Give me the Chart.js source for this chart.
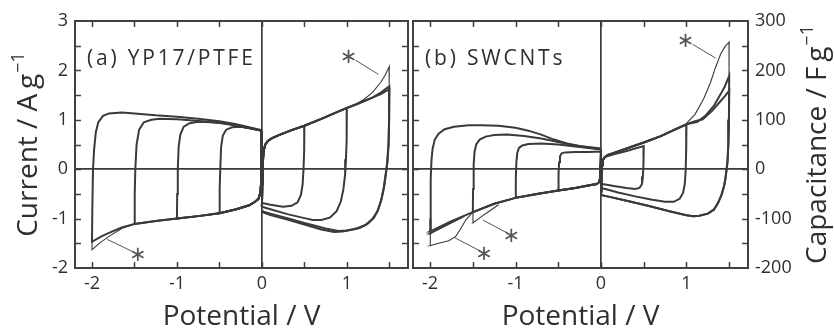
<!DOCTYPE html>
<html>
<head>
<meta charset="utf-8">
<script src="https://cdn.jsdelivr.net/npm/chart.js@4.4.0/dist/chart.umd.min.js"></script>
<style>
  html, body { margin: 0; padding: 0; background: #fff; }
  #wrap { position: relative; width: 834px; height: 331px; overflow: hidden; }
  canvas { position: absolute; top: 0; }
  #cva { left: 0; }
  #cvb { left: 410px; }
</style>
</head>
<body>
<div id="wrap">
  <canvas id="cva" width="412" height="331"></canvas>
  <canvas id="cvb" width="424" height="331"></canvas>
</div>
<script>
// ---- axis ticks ----
const potentialTicks = [-2, -1, 0, 1];
const currentTicks = [-2, -1, 0, 1, 2, 3];
const capacitanceTicks = [-200, -100, 0, 100, 200, 300];
const potentialMarks = [-2, -1.5, -1, -0.5, 0, 0.5, 1, 1.5];
const currentMarks = [-1.5, -1, -0.5, 0, 0.5, 1, 1.5, 2, 2.5];

// ---- (a) YP17/PTFE : [potential V, current A/g] ----
// cathodic sweep from 0 V, shared by all negative windows
const aNegSweep = [[0, 0.78], [-0.004, 0.35], [-0.01, -0.25], [-0.02, -0.48], [-0.04, -0.6], [-0.08, -0.66], [-0.15, -0.73], [-0.3, -0.81], [-0.5, -0.89], [-0.75, -0.95], [-1, -1.0], [-1.25, -1.05], [-1.5, -1.11], [-1.65, -1.18], [-1.8, -1.29], [-1.9, -1.37], [-2, -1.47]];
const aNegBack05 = [[-0.497, -0.4], [-0.49, 0.0], [-0.48, 0.45], [-0.46, 0.68], [-0.42, 0.8], [-0.35, 0.85], [-0.25, 0.86], [-0.1, 0.82], [0, 0.78]];
const aNegBack10 = [[-0.997, -0.5], [-0.99, 0.0], [-0.98, 0.45], [-0.96, 0.7], [-0.92, 0.86], [-0.85, 0.93], [-0.75, 0.96], [-0.6, 0.95], [-0.4, 0.92], [-0.2, 0.85], [0, 0.78]];
const aNegBack15 = [[-1.497, -0.5], [-1.49, 0.0], [-1.475, 0.5], [-1.445, 0.8], [-1.39, 0.95], [-1.3, 1.0], [-1.2, 1.02], [-1.0, 1.01], [-0.7, 0.97], [-0.5, 0.94], [-0.2, 0.85], [0, 0.78]];
const aNegBack20 = [[-1.996, -0.8], [-1.988, 0.0], [-1.975, 0.4], [-1.955, 0.75], [-1.925, 0.95], [-1.87, 1.08], [-1.8, 1.13], [-1.65, 1.15], [-1.5, 1.13], [-1.25, 1.09], [-1.0, 1.06], [-0.75, 1.02], [-0.5, 0.97], [-0.3, 0.91], [-0.15, 0.85], [0, 0.79]];
const aNegFirst = [[-1.5, -1.11], [-1.65, -1.2], [-1.8, -1.36], [-1.9, -1.48], [-2, -1.63], [-1.997, -1.3]];
// anodic sweep from 0 V, shared by all positive windows
const aPosSweep = [[0, -0.76], [0.006, -0.3], [0.012, 0.15], [0.022, 0.38], [0.04, 0.5], [0.07, 0.57], [0.12, 0.63], [0.2, 0.69], [0.35, 0.79], [0.5, 0.88], [0.7, 1.02], [0.85, 1.13], [1.0, 1.24], [1.15, 1.34], [1.3, 1.45], [1.4, 1.55], [1.5, 1.68]];
const aPosBack05 = [[0.498, 0.4], [0.49, 0.0], [0.48, -0.3], [0.46, -0.52], [0.42, -0.67], [0.35, -0.74], [0.25, -0.76], [0.1, -0.72], [0.02, -0.69], [0, -0.68]];
const aPosBack10 = [[0.998, 0.6], [0.99, 0.2], [0.98, -0.1], [0.96, -0.4], [0.93, -0.65], [0.88, -0.85], [0.8, -0.98], [0.7, -1.03], [0.6, -1.03], [0.5, -0.99], [0.3, -0.91], [0.1, -0.81], [0.02, -0.77], [0, -0.76]];
const aPosBack15 = [[1.498, 1.0], [1.492, 0.5], [1.478, 0.15], [1.46, -0.1], [1.44, -0.35], [1.41, -0.6], [1.37, -0.82], [1.32, -0.98], [1.25, -1.1], [1.15, -1.19], [1.0, -1.24], [0.9, -1.25], [0.75, -1.2], [0.5, -1.09], [0.3, -0.99], [0.1, -0.9], [0.02, -0.86], [0, -0.84]];
const aPosHigh2 = [[1.4, 1.52], [1.5, 1.62]];
const aPosBack15b = [[1.497, 1.0], [1.49, 0.5], [1.474, 0.12], [1.455, -0.12], [1.435, -0.37], [1.405, -0.62], [1.36, -0.85], [1.3, -1.01], [1.22, -1.13], [1.1, -1.21], [0.95, -1.26], [0.85, -1.27], [0.7, -1.22], [0.5, -1.12], [0.3, -1.02], [0.1, -0.93], [0.02, -0.88], [0, -0.86]];
const aPosFirst = [[1.1, 1.31], [1.2, 1.41], [1.3, 1.55], [1.4, 1.76], [1.45, 1.9], [1.5, 2.08], [1.498, 1.7]];

// ---- (b) SWCNTs : [potential V, current A/g] ----
const bNegSweep = [[0, 0.4], [-0.004, 0.1], [-0.01, -0.17], [-0.02, -0.26], [-0.05, -0.3], [-0.15, -0.33], [-0.3, -0.38], [-0.5, -0.43], [-0.75, -0.5], [-1, -0.58], [-1.25, -0.7], [-1.5, -0.87], [-1.75, -1.05], [-2, -1.26]];
const bNegBack05 = [[-0.497, -0.1], [-0.49, 0.14], [-0.48, 0.26], [-0.46, 0.32], [-0.42, 0.34], [-0.3, 0.35], [-0.15, 0.35], [0, 0.36]];
const bNegBack10 = [[-0.997, -0.2], [-0.99, 0.15], [-0.98, 0.33], [-0.96, 0.43], [-0.92, 0.48], [-0.85, 0.51], [-0.7, 0.52], [-0.5, 0.5], [-0.3, 0.46], [-0.1, 0.42], [0, 0.4]];
const bNegBack15 = [[-1.497, -0.4], [-1.49, 0.1], [-1.48, 0.35], [-1.46, 0.5], [-1.42, 0.6], [-1.35, 0.66], [-1.25, 0.69], [-1.1, 0.7], [-0.9, 0.67], [-0.7, 0.62], [-0.5, 0.55], [-0.3, 0.48], [-0.15, 0.44], [0, 0.41]];
const bNegBack20 = [[-1.996, -0.8], [-1.99, -0.2], [-1.983, 0.2], [-1.97, 0.42], [-1.945, 0.6], [-1.9, 0.72], [-1.83, 0.81], [-1.72, 0.86], [-1.55, 0.89], [-1.4, 0.89], [-1.2, 0.88], [-1.0, 0.84], [-0.85, 0.78], [-0.7, 0.7], [-0.55, 0.6], [-0.4, 0.52], [-0.25, 0.47], [-0.1, 0.44], [0, 0.42]];
const bNegTail2 = [[-1.6, -0.95], [-1.8, -1.12], [-2, -1.3], [-1.997, -1.0]];
const bNegFirst20 = [[-1.5, -0.87], [-1.58, -1.02], [-1.64, -1.2], [-1.7, -1.36], [-1.78, -1.45], [-1.9, -1.5], [-2, -1.55], [-1.998, -1.2]];
const bNegFirst15 = [[-1.2, -0.72], [-1.3, -0.84], [-1.4, -0.96], [-1.5, -1.09], [-1.498, -0.85]];
const bPosSweep05 = [[0, -0.3], [0.006, -0.05], [0.012, 0.12], [0.025, 0.2], [0.05, 0.25], [0.15, 0.3], [0.3, 0.37], [0.5, 0.47]];
const bPosBack05 = [[0.497, 0.1], [0.49, -0.15], [0.48, -0.3], [0.45, -0.38], [0.4, -0.4], [0.3, -0.38], [0.15, -0.34], [0.05, -0.31], [0, -0.3]];
const bPosSweep = [[0, -0.45], [0.006, -0.15], [0.012, 0.08], [0.022, 0.18], [0.04, 0.24], [0.08, 0.29], [0.15, 0.33], [0.3, 0.42], [0.5, 0.54], [0.7, 0.67], [0.85, 0.79], [1.0, 0.91]];
const bPosBack10 = [[0.997, 0.4], [0.99, -0.05], [0.98, -0.3], [0.96, -0.48], [0.92, -0.6], [0.85, -0.66], [0.75, -0.66], [0.6, -0.62], [0.4, -0.55], [0.2, -0.47], [0.05, -0.4], [0, -0.38]];
const bPosHighA = [[1.1, 0.97], [1.19, 1.01], [1.3, 1.18], [1.4, 1.38], [1.45, 1.48], [1.5, 1.59]];
const bPosHighB = [[1.13, 0.96], [1.22, 1.08], [1.32, 1.28], [1.4, 1.52], [1.45, 1.68], [1.5, 1.89]];
const bPosFirst = [[1.0, 0.93], [1.1, 1.11], [1.2, 1.42], [1.28, 1.75], [1.34, 2.06], [1.4, 2.33], [1.45, 2.48], [1.5, 2.57], [1.498, 1.9]];
const bPosBack15 = [[1.497, 1.0], [1.49, 0.5], [1.48, 0.15], [1.47, 0.0], [1.455, -0.2], [1.44, -0.34], [1.41, -0.52], [1.37, -0.68], [1.32, -0.82], [1.25, -0.9], [1.15, -0.94], [1.08, -0.95], [1.0, -0.93], [0.8, -0.85], [0.55, -0.74], [0.3, -0.64], [0.1, -0.56], [0.02, -0.53], [0, -0.5]];

// ---- first-cycle markers: leader line ends and asterisk positions ----
const aMarkLines = [[[-1.82, -1.42], [-1.52, -1.67]], [[1.10, 2.21], [1.37, 1.92]]];
const aMarkStars = [[-1.46, -1.74], [1.02, 2.26]];
const bMarkLines = [[[1.07, 2.53], [1.34, 2.25]], [[-1.38, -1.03], [-1.11, -1.28]], [[-1.72, -1.38], [-1.42, -1.65]]];
const bMarkStars = [[0.99, 2.59], [-1.05, -1.36], [-1.37, -1.72]];

// ---- styling ----
const lineColor = '#3a3a3a';
const frameColor = '#414141';
const textColor = '#2f2f2f';
const family = "'Open Sans', 'DejaVu Sans', sans-serif";

const upTo = (arr, v) => arr.filter(p => (v < 0 ? p[0] >= v : p[0] <= v));
const pts = (...parts) => [].concat(...parts).map(([x, y]) => ({ x, y }));
const curve = (data, thin) => ({
  data, showLine: true, fill: false, borderColor: lineColor,
  borderWidth: thin ? 1.1 : 2, pointRadius: 0, tension: 0
});
const leaders = lines => lines.map(l => ({
  data: pts(l), showLine: true, fill: false, borderColor: '#555',
  borderWidth: 1, pointRadius: 0, tension: 0
}));

const aSets = [
  curve(pts(upTo(aNegSweep, -0.5), aNegBack05)),
  curve(pts(upTo(aNegSweep, -1), aNegBack10)),
  curve(pts(upTo(aNegSweep, -1.5), aNegBack15)),
  curve(pts(aNegSweep, aNegBack20)),
  curve(pts(aNegFirst), true),
  curve(pts(upTo(aPosSweep, 0.5), aPosBack05)),
  curve(pts(upTo(aPosSweep, 1), aPosBack10)),
  curve(pts(aPosSweep, aPosBack15)),
  curve(pts(upTo(aPosSweep, 1.3), aPosHigh2, aPosBack15b)),
  curve(pts(aPosFirst), true),
  ...leaders(aMarkLines)
];
const bSets = [
  curve(pts(upTo(bNegSweep, -0.5), bNegBack05)),
  curve(pts(upTo(bNegSweep, -1), bNegBack10)),
  curve(pts(upTo(bNegSweep, -1.5), bNegBack15)),
  curve(pts(bNegSweep, bNegBack20)),
  curve(pts(bNegTail2)),
  curve(pts(bNegFirst20), true),
  curve(pts(bNegFirst15), true),
  curve(pts(bPosSweep05, bPosBack05)),
  curve(pts(bPosSweep, bPosBack10)),
  curve(pts(bPosSweep, bPosHighA, bPosBack15)),
  curve(pts(bPosSweep, bPosHighB, bPosBack15)),
  curve(pts(bPosFirst), true),
  ...leaders(bMarkLines)
];

// text with a raised exponent, optionally rotated to read bottom-to-top
function drawRich(ctx, x, y, main, sup, size, rotate) {
  ctx.save();
  ctx.translate(x, y);
  if (rotate) ctx.rotate(-Math.PI / 2);
  ctx.fillStyle = textColor;
  ctx.textBaseline = 'alphabetic';
  ctx.textAlign = 'left';
  const mainFont = `${size}px ${family}`;
  const supFont = `${Math.round(size * 0.66)}px ${family}`;
  ctx.font = mainFont;
  const w1 = ctx.measureText(main).width;
  ctx.font = supFont;
  const w2 = sup ? ctx.measureText(sup).width + 1 : 0;
  const x0 = -(w1 + w2) / 2;
  ctx.font = mainFont;
  ctx.fillText(main, x0, 0);
  if (sup) {
    ctx.font = supFont;
    ctx.fillText(sup, x0 + w1 + 1, -size * 0.45);
  }
  ctx.restore();
}

const decor = {
  id: 'decor',
  afterDraw(chart, args, o) {
    const { ctx, chartArea: a, scales } = chart;
    const xs = scales.x, ys = scales.y;
    ctx.save();
    // inward tick marks on all four sides
    ctx.strokeStyle = frameColor;
    ctx.lineWidth = 1.5;
    ctx.beginPath();
    potentialMarks.forEach(v => {
      const p = Math.round(xs.getPixelForValue(v)) + 0.5;
      ctx.moveTo(p, a.bottom); ctx.lineTo(p, a.bottom - 6);
      ctx.moveTo(p, a.top); ctx.lineTo(p, a.top + 6);
    });
    currentMarks.forEach(v => {
      const p = Math.round(ys.getPixelForValue(v)) + 0.5;
      ctx.moveTo(a.left, p); ctx.lineTo(a.left + 6, p);
      ctx.moveTo(a.right, p); ctx.lineTo(a.right - 6, p);
    });
    ctx.stroke();
    // frame
    ctx.lineWidth = 2;
    ctx.strokeRect(a.left, a.top, a.right - a.left, a.bottom - a.top);
    // asterisks
    ctx.fillStyle = '#555';
    ctx.font = "21px 'DejaVu Sans'";
    ctx.textAlign = 'center';
    ctx.textBaseline = 'middle';
    o.stars.forEach(([x, y]) => ctx.fillText('\u2217', xs.getPixelForValue(x), ys.getPixelForValue(y)));
    // panel label
    ctx.fillStyle = textColor;
    ctx.font = `21px ${family}`;
    ctx.letterSpacing = '2.8px';
    ctx.textAlign = 'left';
    ctx.textBaseline = 'alphabetic';
    ctx.fillText(o.label, a.left + 12, a.top + 44);
    ctx.letterSpacing = '0px';
    ctx.restore();
    // axis titles
    drawRich(ctx, (a.left + a.right) / 2, a.bottom + 57, 'Potential / V', '', 28, false);
    if (o.leftTitle) drawRich(ctx, a.left - 38, (a.top + a.bottom) / 2, 'Current / A\u2009g', '\u22121', 28, true);
    if (o.rightTitle) drawRich(ctx, a.right + 78, (a.top + a.bottom) / 2, 'Capacitance / F\u2009g', '\u22121', 28, true);
  }
};

const tickFont = { family, size: 18 };
const zeroGrid = {
  drawTicks: false, lineWidth: 1.7,
  color: c => (c.tick && c.tick.value === 0 ? lineColor : 'rgba(0,0,0,0)')
};
const xScale = {
  type: 'linear', position: 'bottom', min: -2.2, max: 1.72,
  afterBuildTicks: s => { s.ticks = potentialTicks.map(value => ({ value })); },
  afterFit: s => { s.height = 63; },
  grid: zeroGrid, border: { display: false },
  ticks: { padding: 5, color: textColor, font: tickFont, callback: v => String(v) }
};

function makeChart(id, datasets, scales, padding, decorOpts) {
  return new Chart(document.getElementById(id), {
    type: 'scatter',
    data: { datasets },
    options: {
      responsive: false, animation: false, devicePixelRatio: 1,
      layout: { padding },
      plugins: { legend: { display: false }, tooltip: { enabled: false }, decor: decorOpts },
      scales
    },
    plugins: [decor]
  });
}

makeChart('cva', aSets, {
  x: xScale,
  y: {
    type: 'linear', position: 'left', min: -2, max: 3,
    afterBuildTicks: s => { s.ticks = currentTicks.map(value => ({ value })); },
    afterFit: s => { s.width = 75; },
    grid: zeroGrid, border: { display: false },
    ticks: { padding: 7, color: textColor, font: tickFont, callback: v => String(v) }
  }
}, { left: 0, right: 4, top: 21, bottom: 0 },
{ label: '(a) YP17/PTFE', stars: aMarkStars, leftTitle: true });

makeChart('cvb', bSets, {
  x: xScale,
  y: {
    type: 'linear', position: 'left', min: -2, max: 3,
    afterBuildTicks: s => { s.ticks = currentTicks.map(value => ({ value })); },
    afterFit: s => { s.width = 3; },
    grid: zeroGrid, border: { display: false },
    ticks: { display: false }
  },
  y2: {
    type: 'linear', position: 'right', min: -200, max: 300,
    afterBuildTicks: s => { s.ticks = capacitanceTicks.map(value => ({ value })); },
    afterFit: s => { s.width = 86; },
    grid: { display: false, drawTicks: false }, border: { display: false },
    ticks: { padding: 7, color: textColor, font: tickFont, callback: v => String(v) }
  }
}, { left: 0, right: 0, top: 21, bottom: 0 },
{ label: '(b) SWCNTs', stars: bMarkStars, rightTitle: true });
</script>
</body>
</html>
